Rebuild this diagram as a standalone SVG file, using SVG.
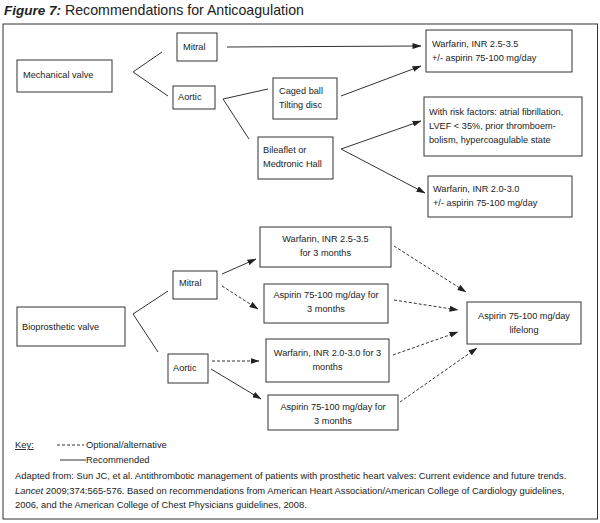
<svg xmlns="http://www.w3.org/2000/svg" width="600" height="523" viewBox="0 0 600 523">
<defs>
<marker id="ah" markerWidth="9" markerHeight="6" refX="8.5" refY="3" orient="auto" markerUnits="userSpaceOnUse">
<path d="M0,0 L9,3 L0,6 z" fill="#222"/>
</marker>
<style>
.t{font-family:"Liberation Sans",Arial,sans-serif;font-size:9.2px;fill:#222}
.c{text-anchor:middle}
.f{font-family:"Liberation Sans",Arial,sans-serif;font-size:9.4px;fill:#222}
.b{fill:#fff;stroke:#333;stroke-width:1}
.l{fill:none;stroke:#333;stroke-width:1}
.a{fill:none;stroke:#333;stroke-width:1;marker-end:url(#ah)}
.d{fill:none;stroke:#333;stroke-width:1;stroke-dasharray:3,2;marker-end:url(#ah)}
</style>
</defs>
<rect width="600" height="523" fill="#fff"/>
<text x="4" y="15" font-family="Liberation Sans,Arial,sans-serif" font-size="13.5" fill="#222"><tspan font-weight="bold" font-style="italic">Figure 7:</tspan><tspan font-size="14.2"> Recommendations for Anticoagulation</tspan></text>
<rect x="3" y="24" width="594.5" height="495" fill="none" stroke="#333" stroke-width="1"/>

<g id="connectors">
<polyline class="l" points="162,52 133,72 168,96"/>
<line class="a" x1="227" y1="47" x2="421" y2="46"/>
<polyline class="l" points="268,89 223,99 249,139"/>
<line class="a" x1="341" y1="96" x2="421" y2="66"/>
<line class="a" x1="341" y1="149" x2="421" y2="121"/>
<line class="a" x1="341" y1="149" x2="425" y2="193"/>
<polyline class="l" points="168,291 133,314 158,352"/>
<line class="a" x1="222" y1="274" x2="256" y2="259"/>
<line class="d" x1="222" y1="286" x2="258" y2="309"/>
<line class="d" x1="212" y1="361" x2="259" y2="361"/>
<line class="a" x1="211" y1="369" x2="261" y2="399"/>
<line class="d" x1="394" y1="246" x2="466" y2="292"/>
<line class="d" x1="394" y1="300" x2="458" y2="310"/>
<line class="d" x1="393" y1="355" x2="458" y2="332"/>
<line class="d" x1="400" y1="402" x2="477" y2="348"/>
</g>

<g id="mechanical"><rect class="b" x="17" y="60" width="95" height="32"/><text class="t" x="23" y="78">Mechanical valve</text></g>
<g id="mitral-mech"><rect class="b" x="177" y="33" width="40" height="28"/><text class="t" x="183" y="50">Mitral</text></g>
<g id="aortic-mech"><rect class="b" x="173" y="86" width="42" height="23"/><text class="t" x="178" y="100">Aortic</text></g>
<g id="caged"><rect class="b" x="273" y="78" width="64" height="41"/><text class="t" x="279" y="94">Caged ball</text><text class="t" x="279" y="108">Tilting disc</text></g>
<g id="bileaflet"><rect class="b" x="258" y="137" width="75" height="42"/><text class="t" x="263" y="153">Bileaflet or</text><text class="t" x="263" y="167">Medtronic Hall</text></g>
<g id="warfarin-25"><rect class="b" x="426" y="30" width="146" height="42"/><text class="t" x="432" y="47">Warfarin, INR 2.5-3.5</text><text class="t" x="432" y="61">+/- aspirin 75-100 mg/day</text></g>
<g id="risk"><rect class="b" x="424" y="97" width="158" height="59"/><text class="t" x="429" y="115">With risk factors: atrial fibrillation,</text><text class="t" x="429" y="129">LVEF &lt; 35%, prior thromboem-</text><text class="t" x="429" y="143">bolism, hypercoagulable state</text></g>
<g id="warfarin-20"><rect class="b" x="428" y="176" width="144" height="41"/><text class="t" x="433" y="192">Warfarin, INR 2.0-3.0</text><text class="t" x="433" y="206">+/- aspirin 75-100 mg/day</text></g>

<g id="bioprosthetic"><rect class="b" x="17" y="307" width="108" height="39"/><text class="t" x="22" y="330">Bioprosthetic valve</text></g>
<g id="mitral-bio"><rect class="b" x="173" y="271" width="44" height="28"/><text class="t" x="179" y="286">Mitral</text></g>
<g id="aortic-bio"><rect class="b" x="168" y="354" width="40" height="29"/><text class="t" x="173" y="371">Aortic</text></g>
<g id="bio-warfarin-25"><rect class="b" x="260" y="227" width="131" height="40"/><text class="t c" x="325.5" y="242">Warfarin, INR 2.5-3.5</text><text class="t c" x="325.5" y="256">for 3 months</text></g>
<g id="bio-aspirin-m"><rect class="b" x="264" y="284" width="124" height="39"/><text class="t c" x="326" y="298">Aspirin 75-100 mg/day for</text><text class="t c" x="326" y="312">3 months</text></g>
<g id="bio-warfarin-20"><rect class="b" x="266" y="339" width="123" height="43"/><text class="t c" x="327.5" y="356">Warfarin, INR 2.0-3.0 for 3</text><text class="t c" x="327.5" y="370">months</text></g>
<g id="bio-aspirin-a"><rect class="b" x="268" y="395" width="130" height="35"/><text class="t c" x="333" y="410">Aspirin 75-100 mg/day for</text><text class="t c" x="333" y="424">3 months</text></g>
<g id="lifelong"><rect class="b" x="467" y="302" width="114" height="42"/><text class="t c" x="524" y="319">Aspirin 75-100 mg/day</text><text class="t c" x="524" y="333">lifelong</text></g>

<g id="key">
<text class="f" x="15" y="448" text-decoration="underline">Key:</text>
<line x1="57" y1="445" x2="84" y2="445" stroke="#333" stroke-width="1" stroke-dasharray="3,2"/>
<text class="f" x="86" y="448">Optional/alternative</text>
<line x1="60" y1="460" x2="86" y2="460" stroke="#333" stroke-width="1"/>
<text class="f" x="86" y="463">Recommended</text>
<text class="f" x="15" y="479">Adapted from: Sun JC, et al. Antithrombotic management of patients with prosthetic heart valves: Current evidence and future trends.</text>
<text class="f" x="15" y="494"><tspan font-style="italic">Lancet</tspan> 2009;374:565-576. Based on recommendations from American Heart Association/American College of Cardiology guidelines,</text>
<text class="f" x="15" y="508">2006, and the American College of Chest Physicians guidelines, 2008.</text>
</g>
</svg>
